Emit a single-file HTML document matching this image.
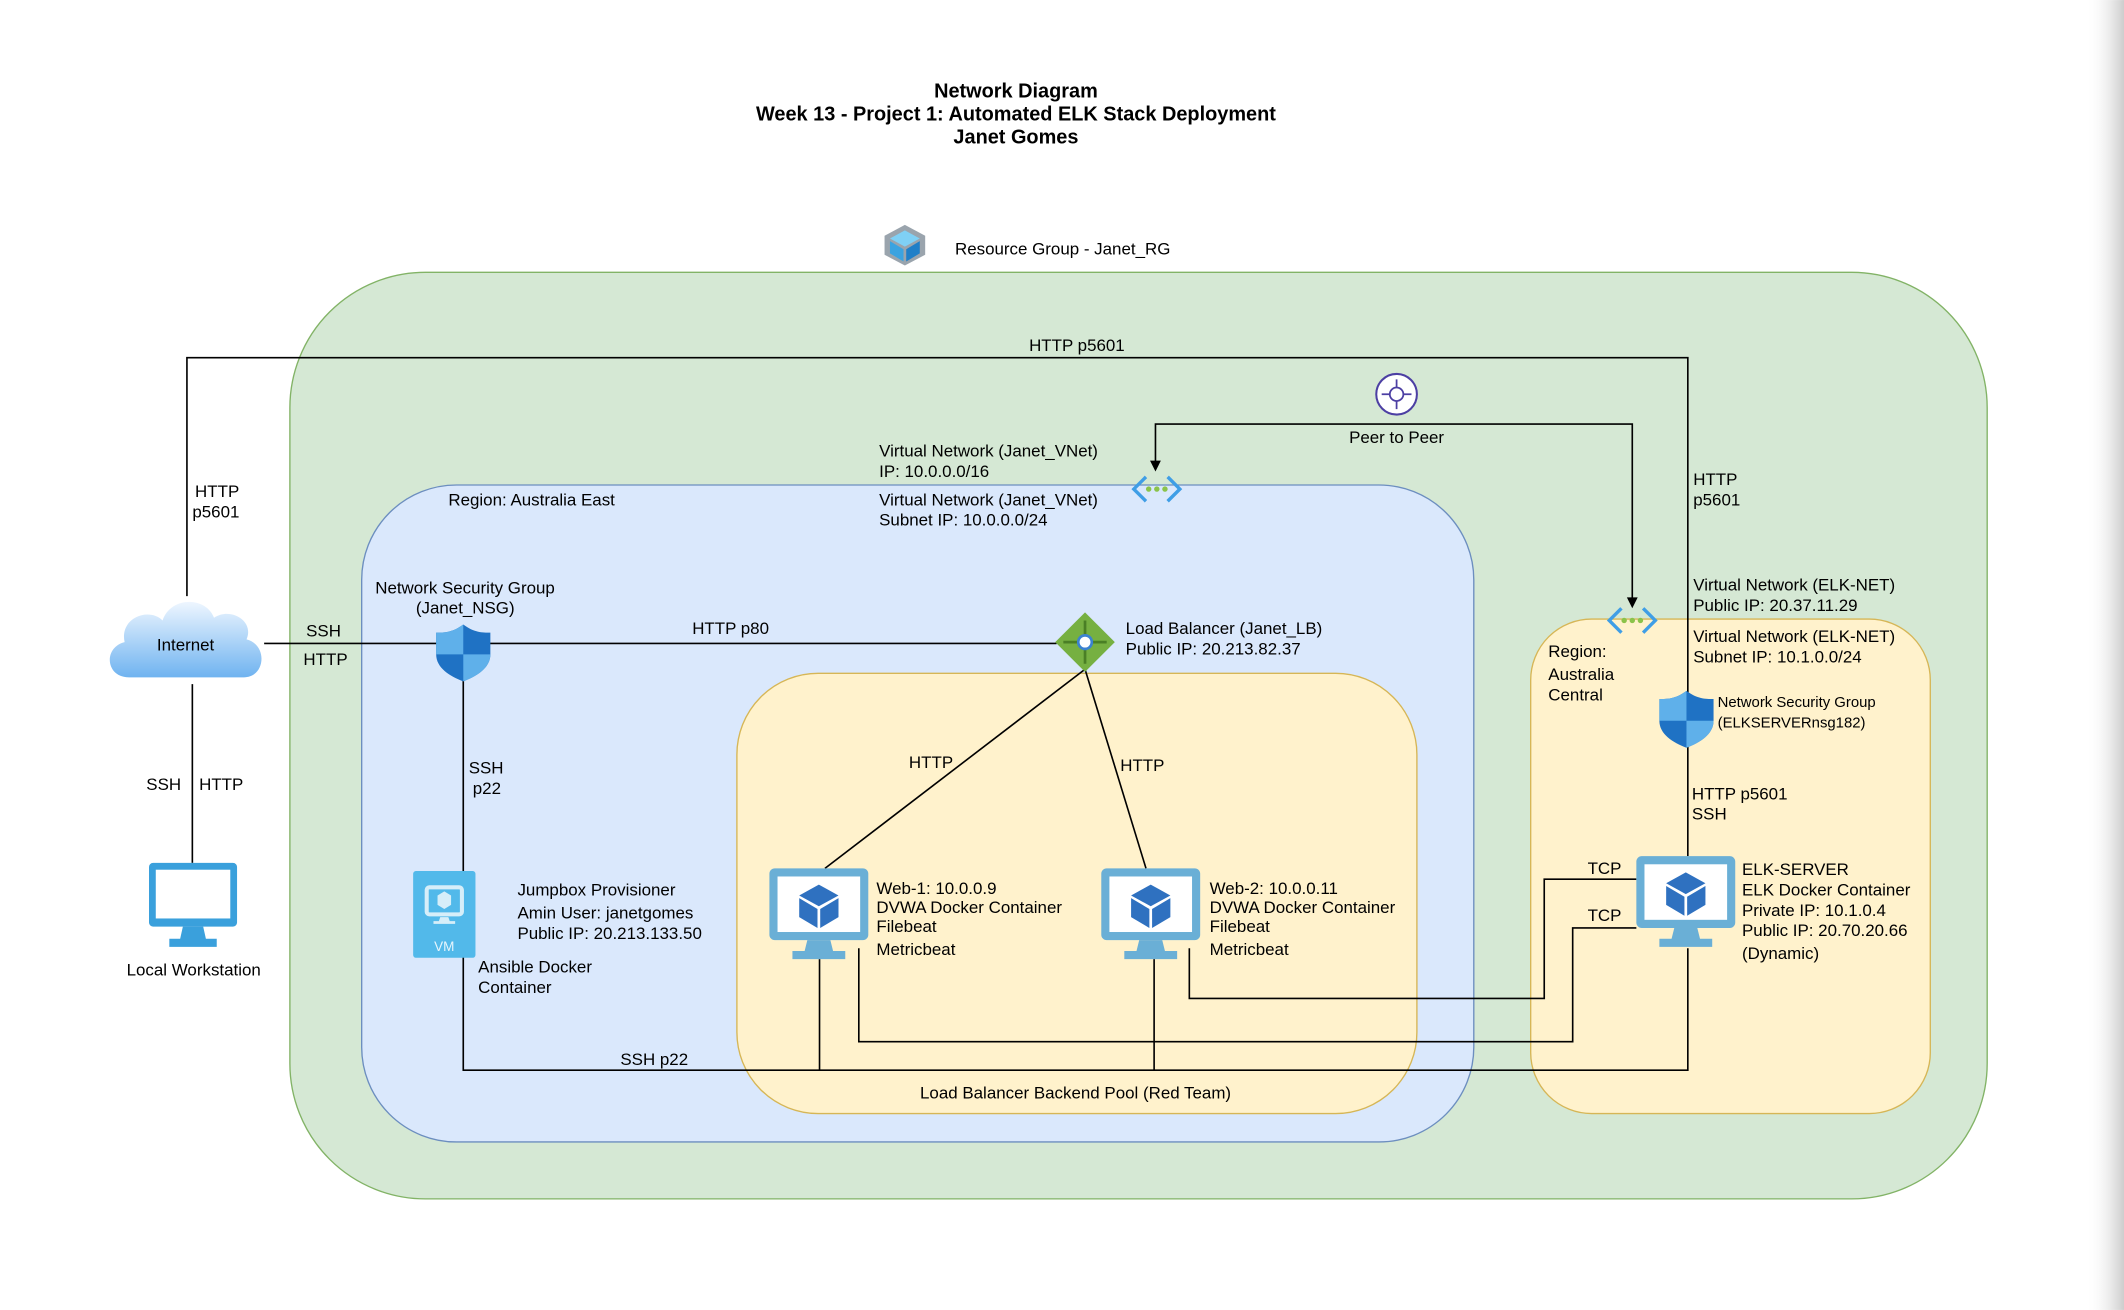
<!DOCTYPE html>
<html><head><meta charset="utf-8"><style>
html,body{margin:0;padding:0;background:#fff;}
svg{display:block;font-family:"Liberation Sans",Arial,sans-serif;}
text{font-size:12.5px;fill:#000;}
.b{font-weight:bold;font-size:14.7px;}
</style></head><body>
<svg width="2124" height="1310" viewBox="0 0 1568 967" xmlns="http://www.w3.org/2000/svg">
<defs>
<linearGradient id="sh" x1="0" x2="1"><stop offset="0" stop-color="#fff" stop-opacity="0"/><stop offset="1" stop-color="#ccc"/></linearGradient>
<g id="mon">
<rect x="0" y="0" width="73" height="53" rx="4" fill="#6aafd6"/>
<rect x="6" y="6" width="61" height="41" fill="#fff"/>
<path d="M28,53 L45,53 L47,61 L56,61 L56,67 L17,67 L17,61 L26,61z" fill="#6aafd6"/>
<path d="M36.5,12 L51,20 L36.5,28 L22,20z" fill="#2f71c0"/>
<path d="M22,22 L35.5,30 L35.5,44 L22,36z" fill="#2f71c0"/>
<path d="M51,22 L37.5,30 L37.5,44 L51,36z" fill="#2f71c0"/>
</g>
<g id="shield">
<path d="M0,-20 C8,-14 14,-14 20,-14 L20,2 C20,12 10,18 0,22 C-10,18 -20,12 -20,2 L-20,-14 C-14,-14 -8,-14 0,-20z" fill="#1f72c4"/>
<path d="M0,-20 L0,2 L-20,2 L-20,-14 C-14,-14 -8,-14 0,-20z" fill="#5fb0ea"/>
<path d="M0,2 L20,2 C20,12 10,18 0,22z" fill="#5fb0ea"/>
</g>
<g id="vnet">
<path d="M-8,-9 L-17,0 L-8,9" fill="none" stroke="#3f9ee6" stroke-width="2.5"/>
<path d="M8,-9 L17,0 L8,9" fill="none" stroke="#3f9ee6" stroke-width="2.5"/>
<circle cx="-6" cy="0" r="2" fill="#8bc34a"/><circle cx="0" cy="0" r="2" fill="#8bc34a"/><circle cx="6" cy="0" r="2" fill="#8bc34a"/>
</g>
</defs>
<rect x="1540" y="0" width="28" height="967" fill="url(#sh)"/>

<text class="b" x="750" y="72" text-anchor="middle">Network Diagram</text>
<text class="b" x="750" y="89" text-anchor="middle">Week 13 - Project 1: Automated ELK Stack Deployment</text>
<text class="b" x="750" y="106" text-anchor="middle">Janet Gomes</text>

<g transform="translate(653,166)">
<path d="M15,0 L30,8 L30,22 L15,30 L0,22 L0,8z" fill="#9aa4ad"/>
<path d="M15,4 L26,10 L15,16 L4,10z" fill="#7fd0f5"/>
<path d="M4,12 L14,18 L14,27 L4,21z" fill="#3ba3e0"/>
<path d="M26,12 L16,18 L16,27 L26,21z" fill="#1f7fc8"/>
</g>
<text x="705" y="188">Resource Group - Janet_RG</text>

<rect x="214" y="201" width="1253" height="684" rx="100" fill="#d5e8d4" stroke="#82b366"/>
<rect x="267" y="358" width="821" height="485" rx="70" fill="#dae8fc" stroke="#6c8ebf"/>
<rect x="544" y="497" width="502" height="325" rx="60" fill="#fff2cc" stroke="#d6b656"/>
<rect x="1130" y="457" width="295" height="365" rx="45" fill="#fff2cc" stroke="#d6b656"/>

<g fill="none" stroke="#000" stroke-width="1.2">
<path d="M138,440 L138,264 L1246,264 L1246,632"/>
<path d="M142,505 L142,637"/>
<path d="M195,475 L780,475"/>
<path d="M342,500 L342,790 L1246,790 L1246,700"/>
<path d="M605,708 L605,790"/>
<path d="M852,708 L852,790"/>
<path d="M634,700 L634,769 L1161,769 L1161,685 L1208,685"/>
<path d="M878,700 L878,737 L1140,737 L1140,649 L1208,649"/>
<path d="M801,494 L609,641"/>
<path d="M801,494 L846,641"/>
<path d="M853,342 L853,313 L1205,313 L1205,444" />
</g>
<path d="M849,340 L853,348 L857,340z" fill="#000"/>
<path d="M1201,441 L1205,449 L1209,441z" fill="#000"/>

<g>
<defs><linearGradient id="cg" x1="0" y1="0" x2="0" y2="1"><stop offset="0" stop-color="#eef6ff"/><stop offset="1" stop-color="#6fb3f0"/></linearGradient></defs>
<path d="M95,500 C78,500 76,478 92,474 C88,456 110,448 120,458 C126,440 152,440 158,456 C170,448 188,458 182,472 C198,476 196,500 180,500z" fill="url(#cg)"/>
</g>
<text x="137" y="480" text-anchor="middle">Internet</text>
<text x="144" y="367">HTTP</text><text x="142" y="382">p5601</text>
<text x="108" y="583">SSH</text><text x="147" y="583">HTTP</text>

<g transform="translate(110,637)">
<rect x="0" y="0" width="65" height="47" rx="3" fill="#3aa0dc"/>
<rect x="5" y="5" width="55" height="36" fill="#fff"/>
<path d="M25,47 L40,47 L42,56 L50,56 L50,62 L15,62 L15,56 L23,56z" fill="#3aa0dc"/>
</g>
<text x="143" y="720" text-anchor="middle">Local Workstation</text>

<text x="795" y="259" text-anchor="middle">HTTP p5601</text>
<text x="1250" y="358">HTTP</text><text x="1250" y="373">p5601</text>

<text x="331" y="373">Region: Australia East</text>
<text x="649" y="337">Virtual Network (Janet_VNet)</text>
<text x="649" y="352">IP: 10.0.0.0/16</text>
<text x="649" y="373">Virtual Network (Janet_VNet)</text>
<text x="649" y="388">Subnet IP: 10.0.0.0/24</text>
<use href="#vnet" x="854" y="361"/>

<g transform="translate(1031,291)">
<circle r="15" fill="#fff" stroke="#4c3fa3" stroke-width="1.5"/>
<path d="M0,-11 L0,11 M-11,0 L11,0" stroke="#4c3fa3" stroke-width="1.3"/>
<circle r="5" fill="#fff" stroke="#4c3fa3" stroke-width="1.3"/>
</g>
<text x="1031" y="327" text-anchor="middle">Peer to Peer</text>

<text x="277" y="438">Network Security Group</text>
<text x="307" y="453">(Janet_NSG)</text>
<use href="#shield" x="342" y="481"/>
<text x="226" y="470">SSH</text><text x="224" y="491">HTTP</text>
<text x="511" y="468">HTTP p80</text>
<text x="346" y="571">SSH</text><text x="349" y="586">p22</text>

<g transform="translate(801,474)">
<path d="M0,-22 L22,0 L0,22 L-22,0z" fill="#76b041"/>
<path d="M0,-16 L0,16 M-16,0 L16,0" stroke="#4a7f25" stroke-width="2"/>
<circle r="5" fill="#fff" stroke="#3b82d0" stroke-width="2"/>
</g>
<text x="831" y="468">Load Balancer  (Janet_LB)</text>
<text x="831" y="483">Public IP: 20.213.82.37</text>
<text x="671" y="567">HTTP</text><text x="827" y="569">HTTP</text>

<g transform="translate(305,643)">
<rect width="46" height="64" rx="2" fill="#52b9ea"/>
<rect x="10" y="12" width="26" height="20" rx="2" fill="none" stroke="#d6eef9" stroke-width="3"/>
<path d="M20,34 L26,34 L27,37 L31,37 L31,39 L15,39 L15,37 L19,37z" fill="#d6eef9"/>
<path d="M23,15 L28,18 L28,25 L23,28 L18,25 L18,18z" fill="#d6eef9"/>
<text x="23" y="59" text-anchor="middle" style="font-size:10px;fill:#e6f5fc">VM</text>
</g>
<text x="382" y="661">Jumpbox  Provisioner</text>
<text x="382" y="678">Amin User: janetgomes</text>
<text x="382" y="693">Public IP: 20.213.133.50</text>
<text x="353" y="718">Ansible Docker</text>
<text x="353" y="733">Container</text>
<text x="483" y="786" text-anchor="middle">SSH p22</text>

<use href="#mon" x="568" y="641"/>
<text x="647" y="660">Web-1: 10.0.0.9</text>
<text x="647" y="674">DVWA Docker Container</text>
<text x="647" y="688">Filebeat</text>
<text x="647" y="705">Metricbeat</text>
<use href="#mon" x="813" y="641"/>
<text x="893" y="660">Web-2: 10.0.0.11</text>
<text x="893" y="674">DVWA Docker Container</text>
<text x="893" y="688">Filebeat</text>
<text x="893" y="705">Metricbeat</text>
<text x="794" y="811" text-anchor="middle">Load Balancer Backend Pool (Red Team)</text>

<text x="1250" y="436">Virtual Network (ELK-NET)</text>
<text x="1250" y="451">Public IP: 20.37.11.29</text>
<text x="1250" y="474">Virtual Network (ELK-NET)</text>
<text x="1250" y="489">Subnet IP: 10.1.0.0/24</text>
<use href="#vnet" x="1205" y="458"/>
<text x="1143" y="485">Region:</text><text x="1143" y="502">Australia</text><text x="1143" y="517">Central</text>
<use href="#shield" x="1245" y="530"/>
<text x="1268" y="522" style="font-size:11px">Network Security Group</text>
<text x="1268" y="537" style="font-size:11px">(ELKSERVERnsg182)</text>
<text x="1249" y="590">HTTP p5601</text>
<text x="1249" y="605">SSH</text>
<text x="1172" y="645">TCP</text><text x="1172" y="680">TCP</text>
<use href="#mon" x="1208" y="632"/>
<text x="1286" y="646">ELK-SERVER</text>
<text x="1286" y="661">ELK Docker Container</text>
<text x="1286" y="676">Private IP: 10.1.0.4</text>
<text x="1286" y="691">Public IP: 20.70.20.66</text>
<text x="1286" y="708">(Dynamic)</text>
</svg>
</body></html>
